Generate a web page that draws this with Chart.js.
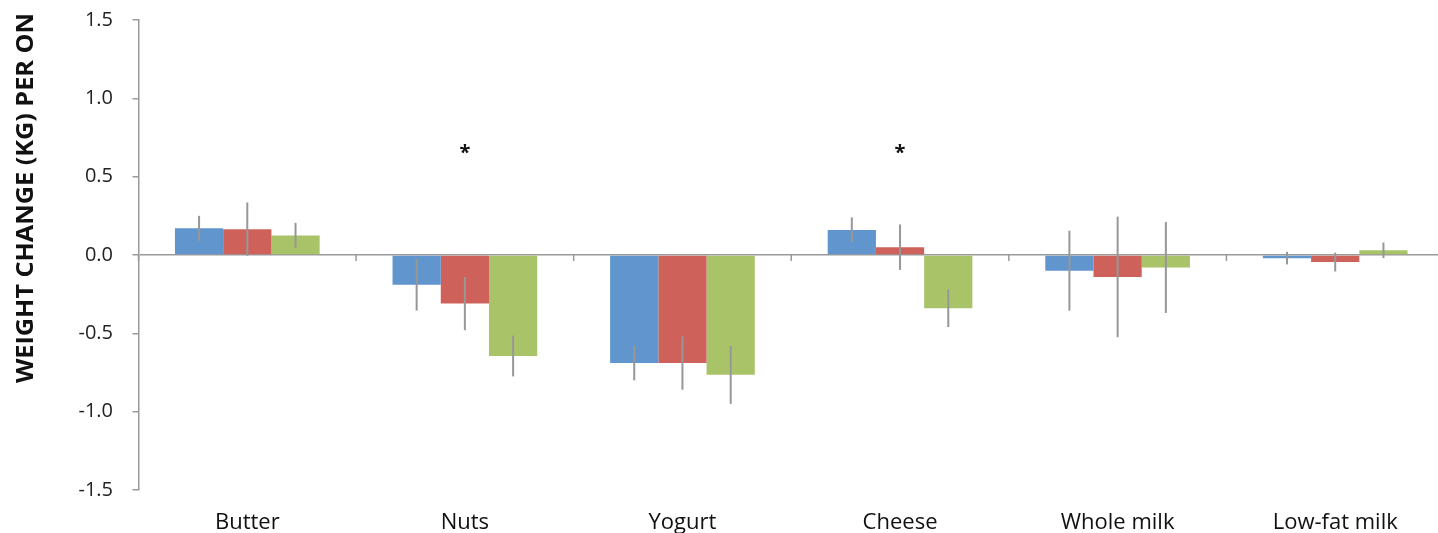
<!DOCTYPE html>
<html>
<head>
<meta charset="utf-8">
<script src="https://cdn.jsdelivr.net/npm/chart.js@4.4.1/dist/chart.umd.min.js"></script>
<style>
  html, body { margin: 0; padding: 0; background: #fff; overflow: hidden; }
  #wrap { width: 1444px; height: 533px; position: relative; }
</style>
</head>
<body>
<div id="wrap"><canvas id="chart"></canvas></div>
<script>
const categories = ['Butter', 'Nuts', 'Yogurt', 'Cheese', 'Whole milk', 'Low-fat milk'];
const blueValues = [0.17, -0.19, -0.69, 0.16, -0.10, -0.02];
const redValues = [0.165, -0.31, -0.69, 0.05, -0.14, -0.045];
const greenValues = [0.125, -0.645, -0.765, -0.34, -0.08, 0.03];
// half length of the error bars
const blueErrors = [0.08, 0.165, 0.11, 0.08, 0.255, 0.04];
const redErrors = [0.17, 0.17, 0.17, 0.145, 0.385, 0.06];
const greenErrors = [0.08, 0.13, 0.185, 0.12, 0.29, 0.05];
const starLabels = ['', '*', '', '*', '', ''];
const starLevel = 0.65;
const yTicks = [-1.5, -1.0, -0.5, 0.0, 0.5, 1.0, 1.5];
const yTitle = 'WEIGHT CHANGE (KG) PER ON';

const axisGray = '#9a9a9a';
const errorSets = [blueErrors, redErrors, greenErrors];

// vertical error lines, no caps
const errorBarPlugin = {
  id: 'errorBarPlugin',
  afterDatasetsDraw: (chart) => {
    const { ctx } = chart;
    const y = chart.scales.y;
    ctx.save();
    ctx.strokeStyle = '#979797';
    ctx.lineWidth = 2;
    chart.data.datasets.forEach((ds, i) => {
      const meta = chart.getDatasetMeta(i);
      meta.data.forEach((bar, j) => {
        const v = ds.data[j];
        const e = errorSets[i][j];
        ctx.beginPath();
        ctx.moveTo(bar.x, y.getPixelForValue(v + e));
        ctx.lineTo(bar.x, y.getPixelForValue(v - e));
        ctx.stroke();
      });
    });
    ctx.restore();
  }
};

// category boundary ticks on the zero line, asterisks, rotated y title
const decorPlugin = {
  id: 'decorPlugin',
  afterDraw: (chart) => {
    const { ctx } = chart;
    const x = chart.scales.x;
    const y = chart.scales.y;
    const zeroY = y.getPixelForValue(0);
    ctx.save();
    ctx.strokeStyle = axisGray;
    ctx.lineWidth = 1.5;
    for (let i = 0; i <= categories.length; i++) {
      let bx;
      if (i === 0) bx = x.left;
      else if (i === categories.length) bx = x.right;
      else bx = (x.getPixelForValue(i - 1) + x.getPixelForValue(i)) / 2;
      ctx.beginPath();
      ctx.moveTo(bx, zeroY);
      ctx.lineTo(bx, zeroY + 6);
      ctx.stroke();
    }

    ctx.fillStyle = '#111';
    ctx.font = 'bold 20px "Open Sans"';
    ctx.textAlign = 'center';
    ctx.textBaseline = 'middle';
    starLabels.forEach((s, i) => {
      if (!s) return;
      ctx.fillText(s, x.getPixelForValue(i), y.getPixelForValue(starLevel));
    });

    ctx.font = 'bold 24px "Open Sans"';
    const w = ctx.measureText(yTitle).width;
    ctx.translate(26.5, 383);
    ctx.rotate(-Math.PI / 2);
    ctx.scale(370 / w, 1);
    ctx.textAlign = 'left';
    ctx.textBaseline = 'middle';
    ctx.fillText(yTitle, 0, 0);
    ctx.restore();
  }
};

new Chart(document.getElementById('chart'), {
  type: 'bar',
  data: {
    labels: categories,
    datasets: [
      { label: 'Series 1', data: blueValues, backgroundColor: '#6095cd' },
      { label: 'Series 2', data: redValues, backgroundColor: '#ce625b' },
      { label: 'Series 3', data: greenValues, backgroundColor: '#a9c468' }
    ]
  },
  options: {
    responsive: true,
    maintainAspectRatio: false,
    animation: false,
    categoryPercentage: 0.665,
    barPercentage: 1.0,
    layout: { padding: { top: 20, left: 0, right: 0, bottom: 0 } },
    plugins: {
      legend: { display: false },
      tooltip: { enabled: false }
    },
    scales: {
      x: {
        grid: { display: false },
        border: { display: false },
        ticks: {
          color: '#111',
          padding: 12,
          font: { family: 'Open Sans', size: 22 }
        },
        afterFit: (scale) => { scale.height = 43; }
      },
      y: {
        min: -1.5,
        max: 1.5,
        afterBuildTicks: (scale) => {
          scale.ticks = yTicks.map(v => ({ value: v }));
        },
        afterFit: (scale) => {
          scale.width = 138.5;
          scale.paddingTop = 0;
          scale.paddingBottom = 0;
        },
        grid: {
          color: (c) => (c.tick && c.tick.value === 0 ? axisGray : 'rgba(0,0,0,0)'),
          lineWidth: 1.5,
          tickColor: axisGray,
          tickLength: 6
        },
        border: { display: true, color: axisGray, width: 1.5 },
        ticks: {
          color: '#222',
          padding: 19.5,
          font: { family: 'Open Sans', size: 20 },
          callback: (v) => Number(v).toFixed(1)
        }
      }
    }
  },
  plugins: [errorBarPlugin, decorPlugin]
});
</script>
</body>
</html>
